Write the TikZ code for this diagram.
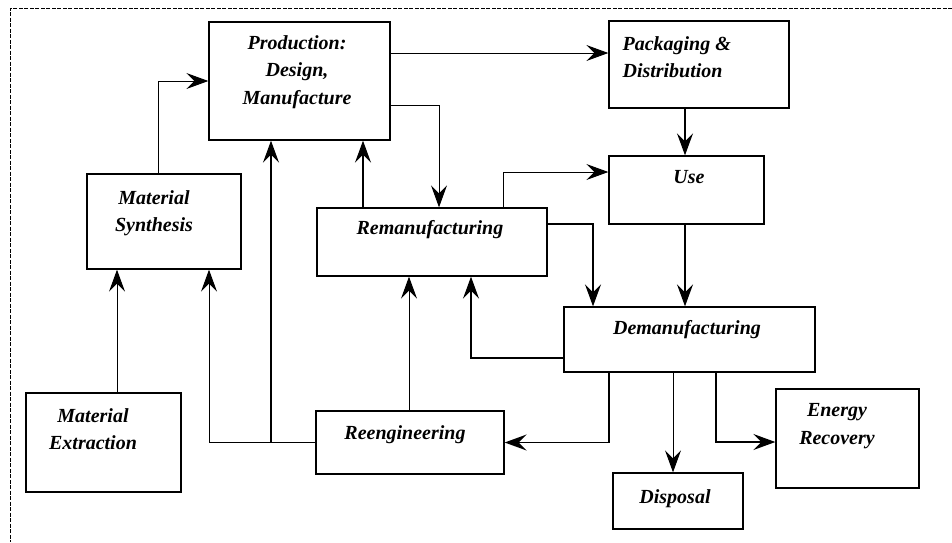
\documentclass[tikz,border=0pt]{standalone}
\usepackage{fontspec}
\setmainfont{Liberation Serif}
\usetikzlibrary{arrows.meta}
\usetikzlibrary{positioning}
\tikzset{blk/.style 2 args = {draw, line width = 1.3pt, inner sep = 0, minimum width = #1, minimum height = #2}}
\tikzset{txt/.style = {font = \fontsize{20}{27.5}\selectfont\bfseries\itshape, align = center, inner sep = 0}}
\tikzset{arr/.style = {-{Stealth[length = 22pt, width = 16pt, inset = 8pt]}, line width = 1pt}}
\tikzset{heavy/.style = {line width = 1.8pt}}
\tikzset{border/.style = {line width = 1pt, dash pattern = on 4pt off 1.5pt}}

\begin{document}
\begin{tikzpicture}[x=1pt, y=-1pt]
    \useasboundingbox (0, 0) rectangle (952, 542);
    \draw[border] (952, 8) -- (10, 8) -- (10, 542);

    \node[blk={181pt}{118pt}] (prod) at (299.5, 81) {};
    \node[blk={154pt}{95pt}] (synth) at (164, 221.5) {};
    \node[blk={155pt}{99pt}] (extr) at (103.5, 442.5) {};
    \node[blk={230pt}{68pt}] (reman) at (432, 242) {};
    \node[blk={180pt}{87pt}] (pack) at (699, 64.5) {};
    \node[blk={155pt}{68pt}] (use) at (686.5, 190) {};
    \node[blk={251pt}{65pt}] (deman) at (689.5, 339.5) {};
    \node[blk={143pt}{99pt}] (energy) at (847.5, 438.5) {};
    \node[blk={130pt}{56pt}] (disp) at (678, 501) {};
    \node[blk={188pt}{63pt}] (reeng) at (410, 442.5) {};

    \node[txt, below = 14pt of prod.north, xshift = -2.5pt] (prodtxt) {Production:\\Design,\\Manufacture};
    \node[txt, align = left, below right = 16pt and 14pt of pack.north west] (packtxt) {Packaging \&\\Distribution};
    \node[txt, below = 17pt of synth.north, xshift = -10pt] (synthtxt) {Material\\Synthesis};
    \node[txt, below = 16pt of extr.north, xshift = -10.5pt] (extrtxt) {Material\\Extraction};
    \node[txt, below = 13pt of reman.north, xshift = -2pt] (remantxt) {Remanufacturing};
    \node[txt, below = 15pt of use.north, xshift = 2.5pt] (usetxt) {Use};
    \node[txt, below = 14pt of deman.north, xshift = -2.5pt] (demantxt) {Demanufacturing};
    \node[txt, below = 15pt of energy.north, xshift = -10.5pt] (energytxt) {Energy\\Recovery};
    \node[txt, below = 17pt of disp.north, xshift = -3pt] (disptxt) {Disposal};
    \node[txt, below = 15pt of reeng.north, xshift = -5pt] (reengtxt) {Reengineering};

    \coordinate (jn) at (271, 442.5);
    \draw[arr] ([xshift = -6pt]synth.north) |- (prod.west);
    \draw[arr] ([yshift = 28pt]prod.east) -- ([yshift = 11.5pt]pack.west);
    \draw[arr] ([yshift = -24pt]prod.east) -| ([xshift = 7pt]reman.north);
    \draw[arr, heavy] ([xshift = -69pt]reman.north) -- ([xshift = 63.5pt]prod.south);
    \draw[arr] (reeng.west) -| ([xshift = 45pt]synth.south);
    \draw[arr, heavy] (jn) -- (jn |- prod.south);
    \draw[arr] ([xshift = 13.5pt]extr.north) -- ([xshift = -47pt]synth.south);
    \draw[arr] ([xshift = -1pt]reeng.north) -- ([xshift = -23pt]reman.south);
    \draw[arr, heavy] ([yshift = -18.5pt]deman.west) -| ([xshift = 39pt]reman.south);
    \draw[arr] ([xshift = 71pt]reman.north) |- ([yshift = 18pt]use.west);
    \draw[arr, heavy] ([yshift = 18pt]reman.east) -| ([xshift = -96.5pt]deman.north);
    \draw[arr, heavy] ([xshift = -14pt]pack.south) -- ([xshift = -1.5pt]use.north);
    \draw[arr, heavy] ([xshift = -1.5pt]use.south) -- ([xshift = -4.5pt]deman.north);
    \draw[arr, heavy] ([xshift = -80.5pt]deman.south) |- (reeng.east);
    \draw[arr] ([xshift = -16.5pt]deman.south) -- ([xshift = -5pt]disp.north);
    \draw[arr, heavy] ([xshift = 26.5pt]deman.south) |- ([yshift = -3.5pt]energy.west);
\end{tikzpicture}
\end{document}
